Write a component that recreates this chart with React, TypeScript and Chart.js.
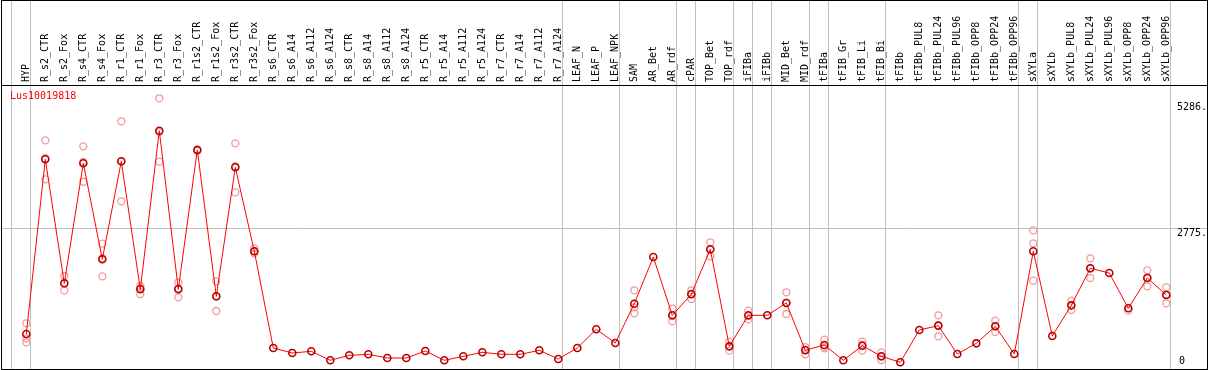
import React, { useEffect, useRef } from 'react';
import { Chart, registerables } from 'chart.js';

Chart.register(...registerables);

const geneName = 'Lus10019818';

const categories = [
  'HYP', 'R_s2_CTR', 'R_s2_Fox', 'R_s4_CTR', 'R_s4_Fox', 'R_r1_CTR', 'R_r1_Fox', 'R_r3_CTR', 'R_r3_Fox',
  'R_r1s2_CTR', 'R_r1s2_Fox', 'R_r3s2_CTR', 'R_r3s2_Fox', 'R_s6_CTR', 'R_s6_A14', 'R_s6_A112', 'R_s6_A124',
  'R_s8_CTR', 'R_s8_A14', 'R_s8_A112', 'R_s8_A124', 'R_r5_CTR', 'R_r5_A14', 'R_r5_A112', 'R_r5_A124',
  'R_r7_CTR', 'R_r7_A14', 'R_r7_A112', 'R_r7_A124', 'LEAF_N', 'LEAF_P', 'LEAF_NPK', 'SAM', 'AR_Bet', 'AR_rdf',
  'cPAR', 'TOP_Bet', 'TOP_rdf', 'iFIBa', 'iFIBb', 'MID_Bet', 'MID_rdf', 'tFIBa', 'tFIB_Gr', 'tFIB_Li', 'tFIB_Bi',
  'tFIBb', 'tFIBb_PUL8', 'tFIBb_PUL24', 'tFIBb_PUL96', 'tFIBb_OPP8', 'tFIBb_OPP24', 'tFIBb_OPP96', 'sXYLa',
  'sXYLb', 'sXYLb_PUL8', 'sXYLb_PUL24', 'sXYLb_PUL96', 'sXYLb_OPP8', 'sXYLb_OPP24', 'sXYLb_OPP96',
];

const expression = [
  653, 4151, 1668, 4071, 2149, 4111, 1548, 4724, 1548, 4337, 1408, 3991, 2309, 372, 272, 306, 126,
  226, 246, 172, 172, 312, 126, 206, 286, 246, 246, 326, 152, 372, 747, 473, 1260, 2195, 1027,
  1448, 2349, 406, 1027, 1027, 1274, 326, 433, 126, 419, 206, 86, 733, 820, 252, 466, 807, 252,
  2309, 613, 1227, 1968, 1874, 1167, 1774, 1434,
];

const replicateA = [
  867, 4531, 1814, 4411, 2461, 4912, 1614, 5373, 1688, 4351, 1708, 4471, 2369, null, null, null, null,
  null, null, null, null, null, null, null, null, null, null, null, null, null, null, null, 1528, null, 1160,
  1528, 2489, 499, 1120, null, 1488, 392, 539, null, 499, 286, null, null, 1027, null, null, 919, null,
  2729, null, 1320, 2168, null, 1120, 1928, 1588,
];

const replicateB = [
  567, 3750, 1528, 3702, 1808, 3310, 1454, 4103, 1388, 4320, 1113, 3490, 2269, null, null, null, null,
  null, null, null, null, null, null, null, null, null, null, null, null, null, null, null, 1067, null, 907,
  1354, 2209, 319, 947, null, 1053, 246, 366, null, 319, 132, null, null, 607, null, null, 693, null,
  2469, null, 1133, 1774, null, null, 1608, 1268,
];

const replicateC = [
  487, 4172, 1662, 4100, 2178, 4111, 1576, 4696, 1568, 4340, 1403, 4012, 2307, null, null, null, null,
  null, null, null, null, null, null, null, null, null, null, null, null, null, null, null, 1185, null, 1014,
  1462, 2349, 400, 1014, null, 1281, 340, 394, null, 439, 200, null, null, 826, null, null, 809, null,
  1720, null, 1228, 1962, null, null, 1786, 1446,
];

// separators are drawn just after these category indices
const groupEnds = [-1, 0, 28, 31, 34, 35, 37, 38, 39, 41, 42, 45, 52, 53, 60];

const yTickValues = [2775, 5286];
const yTickLabels = ['2775.', '5286.'];
const yZeroValues = [0];
const yZeroLabels = ['0'];

const FONT = '"DejaVu Sans Mono", "Liberation Mono", monospace';

const X_MIN = -1.279;
const X_MAX = 62.142;
const LABEL_SHIFT = 0.64;
const SEP_OFFSET = 0.23;
const Y_MIN = -48;
const Y_MAX = 5639;

const noPad = (s: any) => {
  s.paddingLeft = 0;
  s.paddingRight = 0;
  s.paddingTop = 0;
  s.paddingBottom = 0;
};

export default function App() {
  const ref = useRef<HTMLCanvasElement>(null);

  useEffect(() => {
    document.body.style.margin = '0';
    const toPts = (arr: (number | null)[]) =>
      arr.map((v, i) => (v == null ? null : { x: i, y: v })).filter((p) => p !== null) as { x: number; y: number }[];

    const repStyle = {
      showLine: false,
      pointRadius: 3.5,
      pointBorderColor: '#f29a9a',
      pointBorderWidth: 1.3,
      pointBackgroundColor: 'rgba(0,0,0,0)',
      order: 1,
      xAxisID: 'x',
      yAxisID: 'y',
    };

    const chart = new Chart(ref.current as HTMLCanvasElement, {
      type: 'line',
      data: {
        datasets: [
          {
            data: toPts(expression),
            borderColor: '#ff0000',
            borderWidth: 1,
            pointRadius: 3.5,
            pointBorderColor: '#b80000',
            pointBorderWidth: 1.6,
            pointBackgroundColor: 'rgba(0,0,0,0)',
            order: 0,
            xAxisID: 'x',
            yAxisID: 'y',
          },
          { ...repStyle, data: toPts(replicateA) },
          { ...repStyle, data: toPts(replicateB) },
          { ...repStyle, data: toPts(replicateC) },
        ] as any,
      },
      options: {
        animation: false,
        responsive: false,
        maintainAspectRatio: false,
        layout: { padding: 0, autoPadding: false },
        plugins: { legend: { display: false }, tooltip: { enabled: false }, title: { display: false } },
        scales: {
          x: {
            type: 'linear',
            position: 'top',
            min: X_MIN,
            max: X_MAX,
            weight: 0,
            afterBuildTicks: (s: any) => {
              s.ticks = groupEnds.map((g) => ({ value: g + SEP_OFFSET }));
            },
            afterFit: (s: any) => {
              s.height = 0;
              noPad(s);
            },
            ticks: { display: false },
            grid: { color: '#c0c0c0', lineWidth: 1, drawTicks: true, tickLength: 84, drawOnChartArea: true },
            border: { display: true, color: '#000000', width: 1 },
          },
          xLabels: {
            type: 'linear',
            position: 'top',
            min: X_MIN - LABEL_SHIFT,
            max: X_MAX - LABEL_SHIFT,
            weight: 1,
            afterBuildTicks: (s: any) => {
              s.ticks = categories.map((_, i) => ({ value: i }));
            },
            afterFit: (s: any) => {
              s.height = 84;
              noPad(s);
            },
            ticks: {
              autoSkip: false,
              minRotation: 90,
              maxRotation: 90,
              padding: 3,
              color: '#000000',
              font: { family: FONT, size: 10 },
              callback: (_v: any, i: number) => categories[i],
            },
            grid: { display: false, drawTicks: false },
            border: { display: false },
          },
          y: {
            type: 'linear',
            position: 'right',
            min: Y_MIN,
            max: Y_MAX,
            afterBuildTicks: (s: any) => {
              s.ticks = yTickValues.map((v) => ({ value: v }));
            },
            afterFit: (s: any) => {
              s.width = 0;
              noPad(s);
            },
            ticks: {
              mirror: true,
              align: 'start',
              padding: 0,
              color: '#000000',
              font: { family: FONT, size: 10 },
              callback: (_v: any, i: number) => yTickLabels[i],
            },
            grid: {
              drawTicks: false,
              color: (ctx: any) => (ctx.tick && ctx.tick.value === 2775 ? '#c0c0c0' : 'rgba(0,0,0,0)'),
            },
            border: { display: false },
          },
          y0: {
            type: 'linear',
            position: 'right',
            min: Y_MIN,
            max: Y_MAX,
            afterBuildTicks: (s: any) => {
              s.ticks = yZeroValues.map((v) => ({ value: v }));
            },
            afterFit: (s: any) => {
              s.width = 0;
              noPad(s);
            },
            ticks: {
              mirror: true,
              align: 'end',
              padding: -22,
              color: '#000000',
              font: { family: FONT, size: 10 },
              callback: (_v: any, i: number) => yZeroLabels[i],
            },
            grid: { display: false, drawTicks: false },
            border: { display: false },
          },
        },
      } as any,
    });
    return () => chart.destroy();
  }, []);

  return (
    <div
      style={{
        position: 'relative',
        marginLeft: 1,
        width: 1207,
        height: 370,
        border: '1px solid #000',
        boxSizing: 'border-box',
        background: '#fff',
      }}
    >
      <canvas ref={ref} width={1205} height={368} style={{ display: 'block', width: 1205, height: 368 }} />
      <div
        style={{
          position: 'absolute',
          left: 8,
          top: 90,
          color: '#ff0000',
          font: `10px ${FONT}`,
          lineHeight: '10px',
          whiteSpace: 'nowrap',
        }}
      >
        {geneName}
      </div>
    </div>
  );
}
